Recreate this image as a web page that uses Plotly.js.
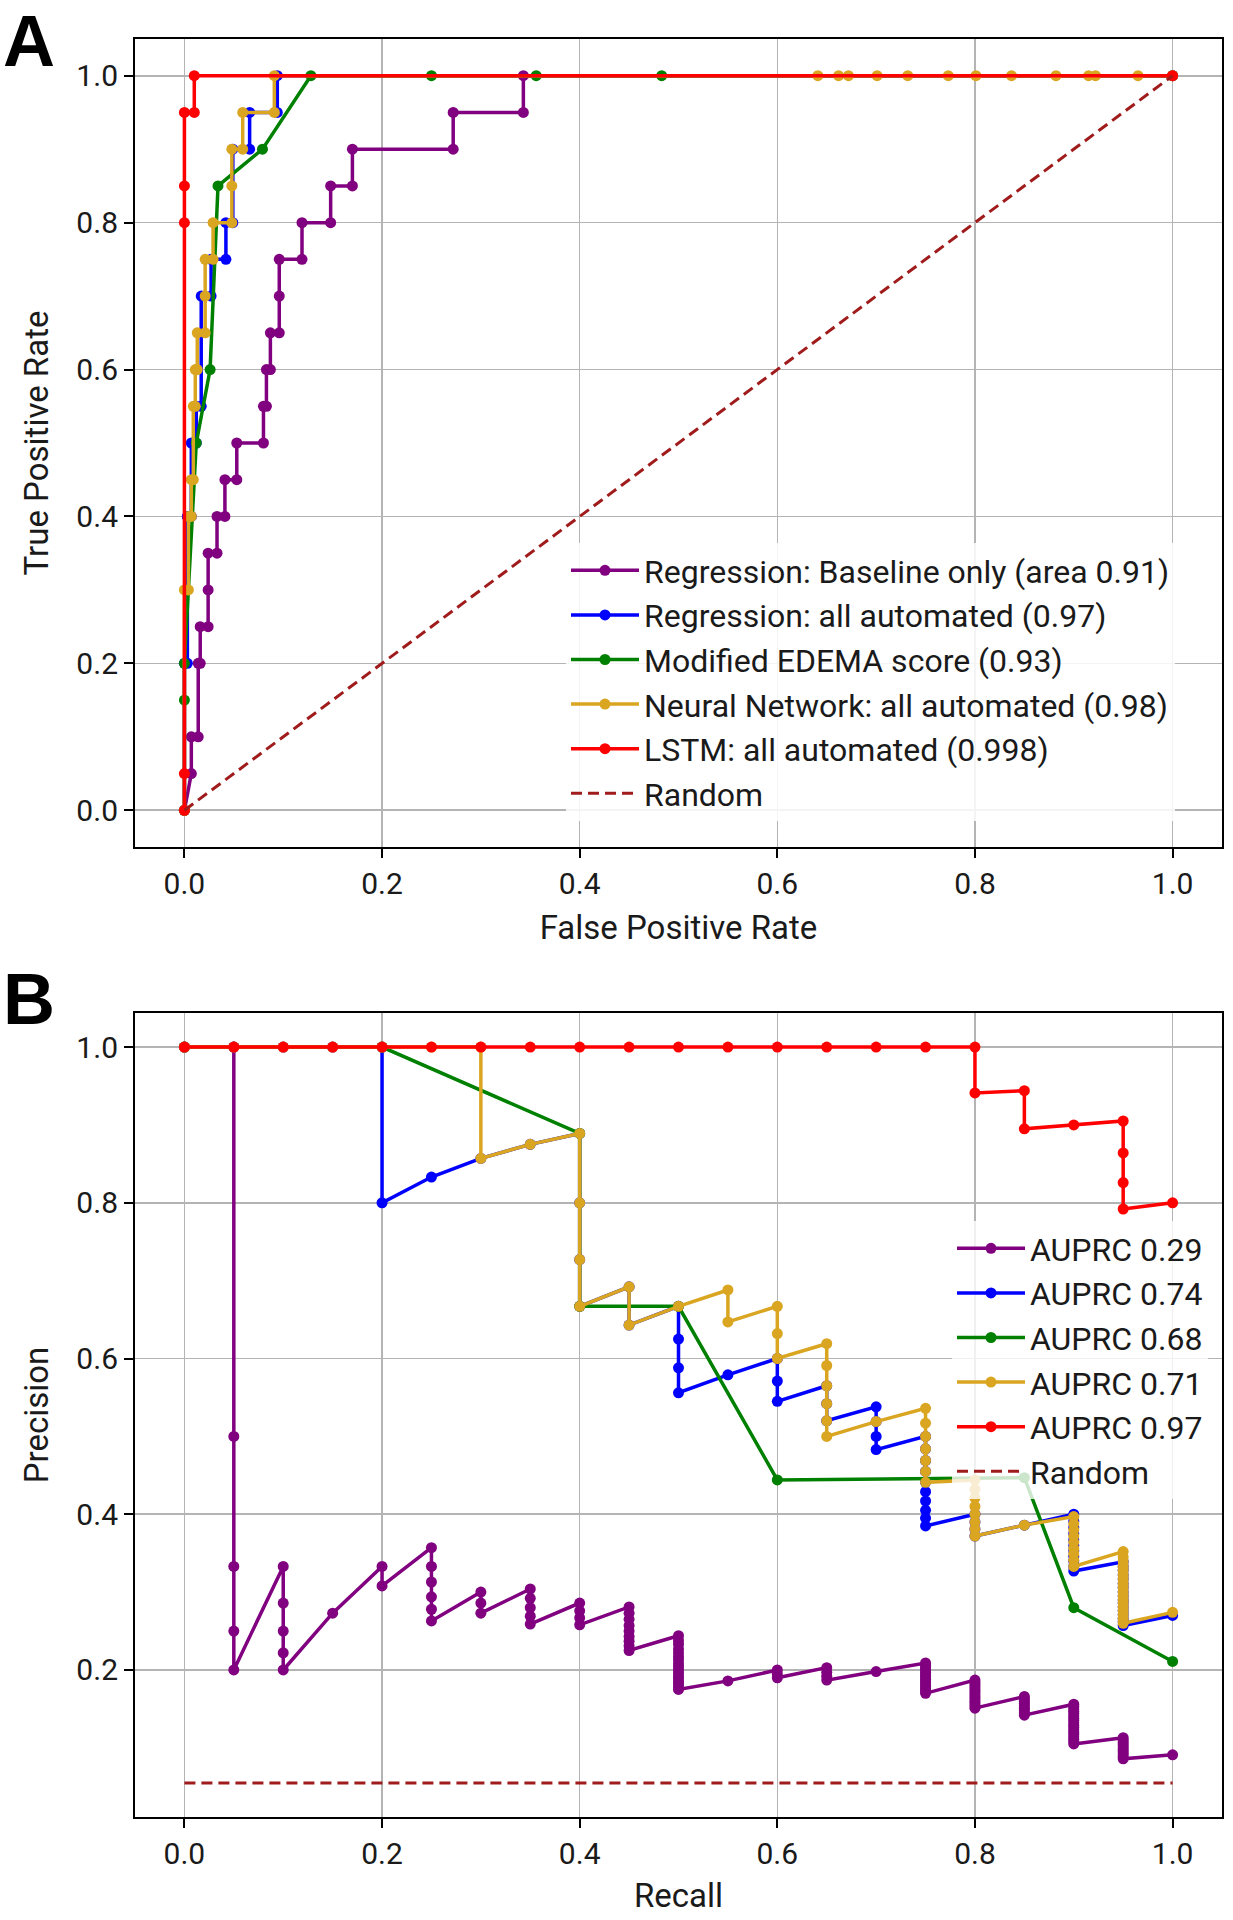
<!DOCTYPE html>
<html><head><meta charset="utf-8">
<script src="https://cdn.plot.ly/plotly-3.0.1.min.js"></script>
<style>html,body{margin:0;padding:0;background:#fff}#chart{width:1233px;height:1920px}</style>
</head><body><div id="chart"></div>
<script>
// ---------- data ----------
const seriesNames = ["Regression: Baseline only (area 0.91)", "Regression: all automated (0.97)", "Modified EDEMA score (0.93)", "Neural Network: all automated (0.98)", "LSTM: all automated (0.998)", "Random"];
const prNames = ["AUPRC 0.29", "AUPRC 0.74", "AUPRC 0.68", "AUPRC 0.71", "AUPRC 0.97", "Random"];
const tickValues = [0, 0.2, 0.4, 0.6, 0.8, 1.0];
const tickLabels = ["0.0", "0.2", "0.4", "0.6", "0.8", "1.0"];

// ROC curves: [false positive rate, true positive rate]
const rocBaseline = [[0,0],[0.007,0.05],[0.007,0.10],[0.014,0.10],[0.014,0.20],[0.016,0.20],[0.016,0.25],[0.024,0.25],[0.024,0.30],[0.024,0.35],[0.033,0.35],[0.033,0.40],[0.041,0.40],[0.041,0.45],[0.053,0.45],[0.053,0.50],[0.080,0.50],[0.080,0.55],[0.083,0.55],[0.083,0.60],[0.087,0.60],[0.087,0.65],[0.096,0.65],[0.096,0.70],[0.096,0.75],[0.119,0.75],[0.119,0.80],[0.148,0.80],[0.148,0.85],[0.170,0.85],[0.170,0.90],[0.272,0.90],[0.272,0.95],[0.343,0.95],[0.343,1.0],[1,1]];
const rocRegression = [[0,0],[0,0.2],[0.003,0.2],[0.003,0.4],[0.007,0.4],[0.007,0.5],[0.012,0.5],[0.012,0.55],[0.017,0.55],[0.017,0.7],[0.027,0.7],[0.027,0.75],[0.042,0.75],[0.042,0.8],[0.049,0.8],[0.049,0.9],[0.066,0.9],[0.066,0.95],[0.094,0.95],[0.094,1.0],[1,1]];
const rocEdema = [[0,0],[0,0.15],[0,0.2],[0.012,0.5],[0.026,0.6],[0.034,0.85],[0.079,0.9],[0.128,1.0],[0.25,1.0],[0.356,1.0],[0.483,1.0],[1,1]];
const rocNeural = [[0,0],[0,0.3],[0.004,0.3],[0.004,0.4],[0.007,0.4],[0.007,0.45],[0.009,0.45],[0.009,0.55],[0.011,0.55],[0.011,0.6],[0.013,0.6],[0.013,0.65],[0.021,0.65],[0.021,0.7],[0.021,0.75],[0.029,0.75],[0.029,0.8],[0.048,0.8],[0.048,0.85],[0.048,0.9],[0.059,0.9],[0.059,0.95],[0.091,0.95],[0.091,1.0],[0.641,1],[0.662,1],[0.672,1],[0.701,1],[0.732,1],[0.773,1],[0.801,1],[0.837,1],[0.882,1],[0.915,1],[0.922,1],[0.965,1],[1,1]];
const rocLstm = [[0,0],[0,0.05],[0,0.8],[0,0.85],[0,0.95],[0.01,0.95],[0.01,1.0],[1,1]];
const rocRandom = [[0,0],[1,1]];

// Precision-recall curves: [recall, precision]
const prBaseline = [[0,1],[0.05,1],[0.05,0.5],[0.05,0.333],[0.05,0.25],[0.05,0.2],
 [0.1,0.333],[0.1,0.286],[0.1,0.25],[0.1,0.222],[0.1,0.2],
 [0.15,0.273],
 [0.2,0.333],[0.2,0.308],
 [0.25,0.357],[0.25,0.333],[0.25,0.313],[0.25,0.294],[0.25,0.278],[0.25,0.263],
 [0.3,0.3],[0.3,0.286],[0.3,0.273],
 [0.35,0.304],[0.35,0.292],[0.35,0.28],[0.35,0.269],[0.35,0.259],
 [0.4,0.286],[0.4,0.276],[0.4,0.267],[0.4,0.258],
 [0.45,0.281],[0.45,0.273],[0.45,0.265],[0.45,0.257],[0.45,0.25],[0.45,0.243],[0.45,0.237],[0.45,0.231],[0.45,0.225],
 [0.5,0.244],[0.5,0.238],[0.5,0.233],[0.5,0.227],[0.5,0.222],[0.5,0.217],[0.5,0.213],[0.5,0.208],[0.5,0.204],[0.5,0.2],[0.5,0.196],[0.5,0.192],[0.5,0.189],[0.5,0.185],[0.5,0.182],[0.5,0.178],[0.5,0.175],
 [0.55,0.186],
 [0.6,0.2],[0.6,0.195],[0.6,0.19],
 [0.65,0.203],[0.65,0.197],[0.65,0.192],[0.65,0.187],
 [0.7,0.198],
 [0.75,0.209],[0.75,0.206],[0.75,0.203],[0.75,0.2],[0.75,0.197],[0.75,0.194],[0.75,0.191],[0.75,0.188],[0.75,0.185],[0.75,0.182],[0.75,0.179],[0.75,0.176],[0.75,0.173],[0.75,0.17],
 [0.8,0.187],[0.8,0.184],[0.8,0.181],[0.8,0.178],[0.8,0.175],[0.8,0.172],[0.8,0.169],[0.8,0.166],[0.8,0.163],[0.8,0.16],[0.8,0.157],[0.8,0.154],[0.8,0.151],
 [0.85,0.166],[0.85,0.163],[0.85,0.16],[0.85,0.157],[0.85,0.154],[0.85,0.151],[0.85,0.148],[0.85,0.145],[0.85,0.142],
 [0.9,0.156],[0.9,0.153],[0.9,0.15],[0.9,0.147],[0.9,0.144],[0.9,0.141],[0.9,0.138],[0.9,0.135],[0.9,0.132],[0.9,0.129],[0.9,0.126],[0.9,0.123],[0.9,0.12],[0.9,0.117],[0.9,0.114],[0.9,0.111],[0.9,0.108],[0.9,0.105],
 [0.95,0.113],[0.95,0.11],[0.95,0.107],[0.95,0.104],[0.95,0.101],[0.95,0.098],[0.95,0.095],[0.95,0.092],[0.95,0.089],[0.95,0.086],
 [1.0,0.091]];
const prRegression = [[0,1],[0.05,1],[0.1,1],[0.15,1],[0.2,1],[0.2,0.8],[0.25,0.833],[0.3,0.857],[0.35,0.875],[0.4,0.889],[0.4,0.8],[0.4,0.727],[0.4,0.667],[0.45,0.692],[0.45,0.643],[0.5,0.667],[0.5,0.625],[0.5,0.588],[0.5,0.556],[0.55,0.579],[0.6,0.6],[0.6,0.571],[0.6,0.545],[0.65,0.565],[0.65,0.542],[0.65,0.52],[0.7,0.538],[0.7,0.519],[0.7,0.5],[0.7,0.483],[0.75,0.5],[0.75,0.484],[0.75,0.469],[0.75,0.455],[0.75,0.441],[0.75,0.429],[0.75,0.417],[0.75,0.405],[0.75,0.395],[0.75,0.385],[0.8,0.4],[0.8,0.39],[0.8,0.381],[0.8,0.372],[0.85,0.386],[0.9,0.4],[0.9,0.391],[0.9,0.383],[0.9,0.375],[0.9,0.367],[0.9,0.36],[0.9,0.353],[0.9,0.346],[0.9,0.34],[0.9,0.333],[0.9,0.327],[0.95,0.339],[0.95,0.333],[0.95,0.328],[0.95,0.322],[0.95,0.317],[0.95,0.311],[0.95,0.306],[0.95,0.3],[0.95,0.295],[0.95,0.29],[0.95,0.286],[0.95,0.281],[0.95,0.276],[0.95,0.271],[0.95,0.266],[0.95,0.262],[0.95,0.257],[1.0,0.27]];
const prEdema = [[0,1],[0.2,1],[0.4,0.889],[0.4,0.667],[0.5,0.667],[0.6,0.444],[0.85,0.447],[0.9,0.28],[1.0,0.211]];
const prNeural = [[0,1],[0.05,1],[0.1,1],[0.15,1],[0.2,1],[0.25,1],[0.3,1],[0.3,0.857],[0.35,0.875],[0.4,0.889],[0.4,0.8],[0.4,0.727],[0.4,0.667],[0.45,0.692],[0.45,0.643],[0.5,0.667],[0.55,0.688],[0.55,0.647],[0.6,0.667],[0.6,0.632],[0.6,0.6],[0.65,0.619],[0.65,0.591],[0.65,0.565],[0.65,0.542],[0.65,0.52],[0.65,0.5],[0.7,0.519],[0.75,0.536],[0.75,0.517],[0.75,0.5],[0.75,0.484],[0.75,0.469],[0.75,0.455],[0.75,0.441],[0.8,0.444],[0.8,0.432],[0.8,0.421],[0.8,0.41],[0.8,0.4],[0.8,0.39],[0.8,0.381],[0.8,0.372],[0.85,0.386],[0.9,0.397],[0.9,0.388],[0.9,0.38],[0.9,0.372],[0.9,0.364],[0.9,0.356],[0.9,0.349],[0.9,0.341],[0.9,0.333],[0.95,0.352],[0.95,0.345],[0.95,0.339],[0.95,0.333],[0.95,0.328],[0.95,0.322],[0.95,0.317],[0.95,0.311],[0.95,0.306],[0.95,0.3],[0.95,0.295],[0.95,0.29],[0.95,0.286],[0.95,0.281],[0.95,0.276],[0.95,0.271],[0.95,0.266],[0.95,0.26],[1.0,0.274]];
const prLstm = [[0,1],[0.05,1],[0.1,1],[0.15,1],[0.2,1],[0.25,1],[0.3,1],[0.35,1],[0.4,1],[0.45,1],[0.5,1],[0.55,1],[0.6,1],[0.65,1],[0.7,1],[0.75,1],[0.8,1],[0.8,0.941],[0.85,0.944],[0.85,0.895],[0.9,0.9],[0.95,0.905],[0.95,0.864],[0.95,0.826],[0.95,0.792],[1.0,0.8]];
const prRandom = [[0,0.055],[1,0.055]];

// ---------- styling ----------
const seriesColors = ["#800080", "#0000ff", "#008000", "#daa520", "#ff0000", "#a01c1c"];
const FONT = 'Roboto, "DejaVu Sans", sans-serif';
const TXT = '#1a1a1a';

const rocSets = [rocBaseline, rocRegression, rocEdema, rocNeural, rocLstm, rocRandom];
const prSets = [prBaseline, prRegression, prEdema, prNeural, prLstm, prRandom];

function mk(set, i, name, xa, ya, lg) {
  const isRandom = i === 5;
  return {
    x: set.map(p => p[0]), y: set.map(p => p[1]),
    name: name, xaxis: xa, yaxis: ya, legend: lg,
    type: 'scatter', mode: isRandom ? 'lines' : 'lines+markers',
    line: isRandom ? {color: seriesColors[i], width: 3, dash: '11px,6px'} : {color: seriesColors[i], width: 3.5},
    marker: {color: seriesColors[i], size: 11, line: {width: 0}},
    hoverinfo: 'skip'
  };
}
const traces = [];
rocSets.forEach((s, i) => traces.push(mk(s, i, seriesNames[i], 'x', 'y', 'legend')));
prSets.forEach((s, i) => traces.push(mk(s, i, prNames[i], 'x2', 'y2', 'legend2')));

const W = 1233, H = 1920;
function axisBase() {
  return {
    tickvals: tickValues, ticktext: tickLabels,
    showgrid: true, gridcolor: '#b4b4b4', gridwidth: 1.6,
    zeroline: false, showline: true, linecolor: '#000', linewidth: 2, mirror: true,
    ticks: 'outside', ticklen: 9, tickwidth: 2, tickcolor: '#000',
    tickfont: {family: FONT, size: 30, color: TXT},
    automargin: false
  };
}
const xDom = [135 / W, 1222 / W];
const titleFont = {family: FONT, size: 33, color: TXT};

const layout = {
  width: W, height: H,
  margin: {l: 0, r: 0, t: 0, b: 0},
  paper_bgcolor: '#fff', plot_bgcolor: '#fff',
  showlegend: true,
  xaxis: Object.assign(axisBase(), {domain: xDom, anchor: 'y', range: [-0.05, 1.05],
    title: {text: 'False Positive Rate', font: titleFont, standoff: 16}}),
  yaxis: Object.assign(axisBase(), {domain: [1 - 847 / H, 1 - 39 / H], anchor: 'x', range: [-0.05, 1.05],
    title: {text: 'True Positive Rate', font: titleFont, standoff: 18}}),
  xaxis2: Object.assign(axisBase(), {domain: xDom, anchor: 'y2', range: [-0.05, 1.05],
    title: {text: 'Recall', font: titleFont, standoff: 14}}),
  yaxis2: Object.assign(axisBase(), {domain: [1 - 1817 / H, 1 - 1013 / H], anchor: 'x2', range: [0.0112, 1.0437],
    title: {text: 'Precision', font: titleFont, standoff: 18}}),
  legend: {x: 566 / W, y: 1 - 543 / H, xanchor: 'left', yanchor: 'top',
    bgcolor: 'rgba(255,255,255,0.85)', borderwidth: 0, itemwidth: 68,
    font: {family: FONT, size: 32, color: TXT}, tracegroupgap: 0},
  legend2: {x: 952 / W, y: 1 - 1221 / H, xanchor: 'left', yanchor: 'top',
    bgcolor: 'rgba(255,255,255,0.8)', borderwidth: 0, itemwidth: 68,
    font: {family: FONT, size: 32, color: TXT}, tracegroupgap: 0},
  annotations: [
    {text: '<b>A</b>', xref: 'paper', yref: 'paper', x: 2 / W, y: 1, xanchor: 'left', yanchor: 'top',
     showarrow: false, borderpad: 0, font: {family: '"Liberation Sans", Arial, sans-serif', size: 72, color: '#000'}},
    {text: '<b>B</b>', xref: 'paper', yref: 'paper', x: 2 / W, y: 1 - 958 / H, xanchor: 'left', yanchor: 'top',
     showarrow: false, borderpad: 0, font: {family: '"Liberation Sans", Arial, sans-serif', size: 72, color: '#000'}}
  ]
};

Plotly.newPlot('chart', traces, layout, {staticPlot: true, displayModeBar: false});
</script></body></html>
